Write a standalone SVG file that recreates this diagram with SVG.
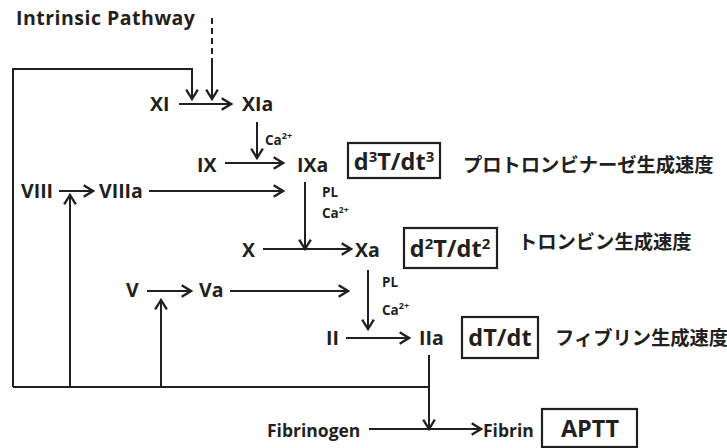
<svg xmlns="http://www.w3.org/2000/svg" width="727" height="448" viewBox="0 0 727 448">
  <defs>
    <marker id="arrow" markerUnits="userSpaceOnUse" markerWidth="14" markerHeight="14" viewBox="-10 -6 12 12" refX="0" refY="0" orient="auto">
      <path d="M-8,-5 L0,0 L-8,5" fill="none" stroke="#231f20" stroke-width="2" stroke-linejoin="miter"/>
    </marker>
    <style>
      .t { font-family: "Open Sans", "Noto Sans", sans-serif; font-weight: bold; fill: #231f20; }
      .f { font-size: 19.5px; }
      .s { font-size: 13.5px; }
      .b { font-size: 23.5px; }
      .jp { font-family: "Noto Sans CJK JP", sans-serif; font-weight: bold; font-size: 19.3px; fill: #231f20; }
      .ln { fill: none; stroke: #231f20; stroke-width: 2; }
      .ar { marker-end: url(#arrow); }
      .box { fill: #fff; stroke: #231f20; stroke-width: 2.2; }
    </style>
  </defs>
  <rect width="727" height="448" fill="#fff"/>

  <!-- connectors -->
  <g id="connectors">
    <path class="ln" d="M212,18 L212,64" stroke-dasharray="6,4"/>
    <path class="ln ar" d="M212,64 L212,99"/>
    <path class="ln ar" d="M13,387 L13,69 L192,69 L192,99"/>
    <path class="ln ar" d="M179,104 L231,104"/>
    <path class="ln ar" d="M257,122 L257,158"/>
    <path class="ln ar" d="M225,163 L283,163"/>
    <path class="ln ar" d="M59,191 L93,191"/>
    <path class="ln ar" d="M149,191 L283,191"/>
    <path class="ln ar" d="M305,182 L305,249"/>
    <path class="ln ar" d="M263,249 L351,249"/>
    <path class="ln ar" d="M147,291 L191,291"/>
    <path class="ln ar" d="M230,291 L348,291"/>
    <path class="ln ar" d="M368,270 L368,329"/>
    <path class="ln ar" d="M346,338 L409,338"/>
    <path class="ln" d="M13,387 L429,387"/>
    <path class="ln ar" d="M429,355 L429,429"/>
    <path class="ln ar" d="M70,387 L70,195"/>
    <path class="ln ar" d="M161,387 L161,300"/>
    <path class="ln ar" d="M369,429 L481,429"/>
  </g>

  <g id="intrinsic"><text class="t f" x="16" y="25" letter-spacing="0.5">Intrinsic Pathway</text></g>
  <g id="XI"><text class="t f" x="150" y="111">XI</text></g>
  <g id="XIa"><text class="t f" x="242" y="111">XIa</text></g>
  <g id="ca1"><text class="t s" x="265" y="145">Ca<tspan font-size="9" dy="-6">2+</tspan></text></g>
  <g id="IX"><text class="t f" x="197" y="172">IX</text></g>
  <g id="IXa"><text class="t f" x="297" y="172">IXa</text></g>
  <g id="box3">
    <rect class="box" x="348" y="143" width="92" height="35"/>
    <text class="t b" x="394" y="170" text-anchor="middle">d<tspan font-size="15" dy="-8">3</tspan><tspan dy="8">T/dt</tspan><tspan font-size="15" dy="-8">3</tspan></text>
  </g>
  <g id="jp3"><text class="jp" x="463" y="172">プロトロンビナーゼ生成速度</text></g>
  <g id="VIII"><text class="t f" x="21" y="198">VIII</text></g>
  <g id="VIIIa"><text class="t f" x="99" y="198">VIIIa</text></g>
  <g id="pl1"><text class="t s" x="322" y="197">PL</text><text class="t s" x="322" y="218">Ca<tspan font-size="8.5" dy="-5">2+</tspan></text></g>
  <g id="X"><text class="t f" x="242" y="257">X</text></g>
  <g id="Xa"><text class="t f" x="355" y="257">Xa</text></g>
  <g id="box2">
    <rect class="box" x="404" y="228" width="93" height="40"/>
    <text class="t b" x="450" y="257" text-anchor="middle">d<tspan font-size="15" dy="-8">2</tspan><tspan dy="8">T/dt</tspan><tspan font-size="15" dy="-8">2</tspan></text>
  </g>
  <g id="jp2"><text class="jp" x="518" y="249">トロンビン生成速度</text></g>
  <g id="V"><text class="t f" x="126" y="297">V</text></g>
  <g id="Va"><text class="t f" x="199" y="297">Va</text></g>
  <g id="pl2"><text class="t s" x="382" y="287">PL</text><text class="t s" x="382" y="315">Ca<tspan font-size="9" dy="-6">2+</tspan></text></g>
  <g id="II"><text class="t f" x="326" y="345">II</text></g>
  <g id="IIa"><text class="t f" x="419" y="345">IIa</text></g>
  <g id="box1">
    <rect class="box" x="462" y="317" width="76" height="41"/>
    <text class="t b" x="500" y="346" text-anchor="middle">dT/dt</text>
  </g>
  <g id="jp1"><text class="jp" x="555" y="345">フィブリン生成速度</text></g>
  <g id="fibrinogen"><text class="t" font-size="17.5" x="267" y="437">Fibrinogen</text></g>
  <g id="fibrin"><text class="t" font-size="17.5" x="483" y="437">Fibrin</text></g>
  <g id="aptt">
    <rect class="box" x="542" y="409" width="95" height="38"/>
    <text class="t b" x="590" y="437" text-anchor="middle">APTT</text>
  </g>
</svg>
